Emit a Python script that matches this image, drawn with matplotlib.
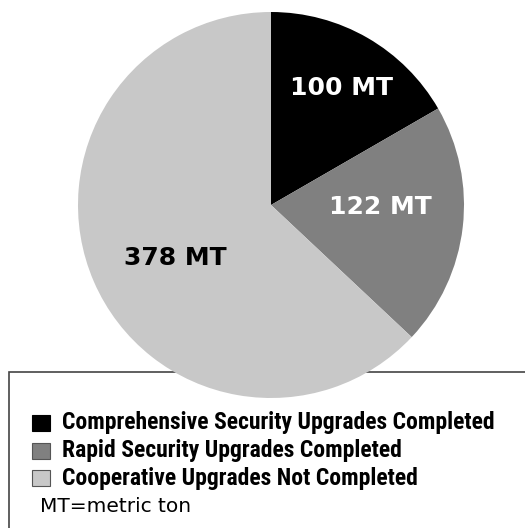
import matplotlib
matplotlib.use("Agg")
import matplotlib.pyplot as plt
from matplotlib.patches import Rectangle
from matplotlib import font_manager

# data
labels = ["Comprehensive Security Upgrades Completed",
          "Rapid Security Upgrades Completed",
          "Cooperative Upgrades Not Completed"]
values = [100, 122, 378]
value_text = ["100 MT", "122 MT", "378 MT"]
colors = ["#000000", "#808080", "#c8c8c8"]
text_colors = ["white", "white", "black"]
note = "MT=metric ton"

# pick a condensed bold family if one is around
names = set(f.name for f in font_manager.fontManager.ttflist)
cond_font = None
for cand in ["Liberation Sans Narrow", "Roboto Condensed", "Open Sans Condensed",
             "DejaVu Sans Condensed", "Noto Sans Condensed"]:
    if cand in names:
        cond_font = cand
        break

W, H = 525, 528
fig = plt.figure(figsize=(W / 100, H / 100), dpi=100)
ax = fig.add_axes([0, 0, 1, 1])

# legend frame sits behind the pie
ax.add_patch(Rectangle((9, -20), 600, H - 372 + 20, facecolor="white",
                       edgecolor="#444444", lw=1.2, zorder=0))

cx, cy, r = 271, H - 205, 193
ax.pie(values, colors=colors, startangle=90, counterclock=False,
       center=(cx, cy), radius=r, frame=True,
       wedgeprops=dict(linewidth=0, zorder=2))
ax.set_xlim(0, W)
ax.set_ylim(0, H)
ax.set_aspect("equal")
ax.axis("off")

label_pos = [(341, 88), (380, 207), (175, 258)]
for (x, y), t, c in zip(label_pos, value_text, text_colors):
    ax.text(x, H - y, t, color=c, fontsize=18, fontweight="bold",
            family="DejaVu Sans", ha="center", va="center", zorder=3)

rows = [423, 451, 478]
for y, lab, col in zip(rows, labels, colors):
    ec = "#555555" if col != "#000000" else "#000000"
    ax.add_patch(Rectangle((32, H - y - 8), 18, 16, facecolor=col,
                           edgecolor=ec, lw=0.8, zorder=3))
    if cond_font:
        ax.text(62, H - y, lab, fontsize=17, fontweight="bold", family=cond_font,
                ha="left", va="center", zorder=3)
    else:
        ax.text(62, H - y, lab, fontsize=14.5, fontweight="bold",
                family="Liberation Sans", ha="left", va="center", zorder=3)

ax.text(40, H - 506, note, fontsize=14.5, family="DejaVu Sans",
        ha="left", va="center", zorder=3)

fig.savefig("out.png", dpi=100)
